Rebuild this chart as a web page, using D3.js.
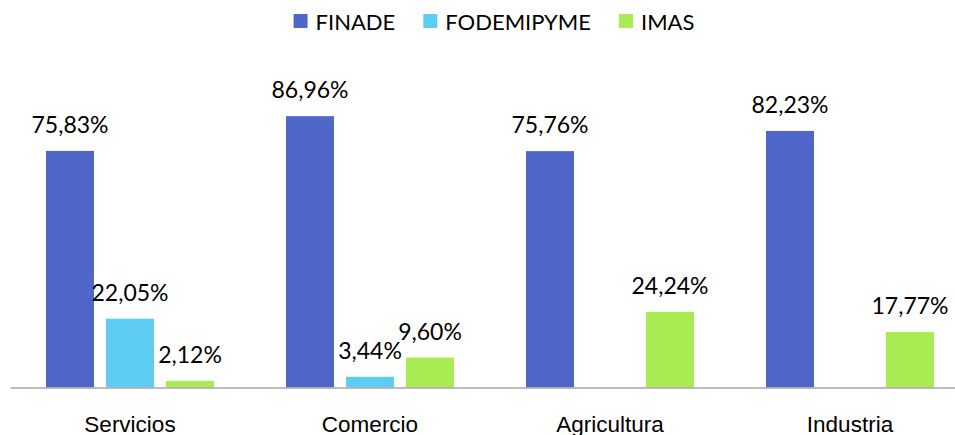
<!DOCTYPE html>
<html>
<head>
<meta charset="utf-8">
<script src="https://cdn.jsdelivr.net/npm/d3@7"></script>
<style>
  body { margin: 0; background: #fff; }
  svg { display: block; font-family: Lato, "Open Sans", sans-serif; }
  .label { font-size: 23px; fill: #000; }
  .cat { font-size: 22.5px; fill: #000; }
  .legend text { font-size: 22px; fill: #000; }
</style>
</head>
<body>
<svg width="955" height="435"></svg>
<script>
const w = 955, h = 435;

const categories = ["Servicios", "Comercio", "Agricultura", "Industria"];
const series = ["FINADE", "FODEMIPYME", "IMAS"];
const finade = [75.83, 86.96, 75.76, 82.23];
const fodemipyme = [22.05, 3.44, null, null];
const imas = [2.12, 9.60, 24.24, 17.77];
const colors = ["#4f67c8", "#5dcdf3", "#a9eb52"];

const values = [finade, fodemipyme, imas];
const baseY = 387.5;

const scaleX = d3.scaleBand().domain(categories).range([10, 970]);
const scaleS = d3.scaleBand().domain(series).range([36, 204]).paddingInner(0.2);
const scaleY = d3.scaleLinear().domain([0, 100]).range([baseY, baseY - 312]);
const color = d3.scaleOrdinal(series, colors);
const format = v => d3.format(".2f")(v).replace(".", ",") + "%";

const svg = d3.select("svg");

const rows = [];
categories.forEach((c, i) => {
    series.forEach((s, j) => {
        if (values[j][i] != null) rows.push({cat: c, series: s, value: values[j][i]});
    });
});

svg.selectAll("rect.bar")
    .data(rows)
    .join("rect").attr("class", "bar")
    .attr("x", d => scaleX(d.cat) + scaleS(d.series))
    .attr("width", scaleS.bandwidth())
    .attr("y", d => scaleY(d.value))
    .attr("height", d => scaleY(0) - scaleY(d.value))
    .style("fill", d => color(d.series));

svg.selectAll("text.label")
    .data(rows)
    .join("text").attr("class", "label")
    .attr("text-anchor", "middle")
    .attr("x", d => scaleX(d.cat) + scaleS(d.series) + scaleS.bandwidth() / 2)
    .attr("y", d => scaleY(d.value) - 18)
    .text(d => format(d.value));

// axis
const axisX = d3.axisBottom(scaleX).tickSize(0);
const xG = svg.append("g").attr("class", "x-axis")
    .attr("transform", `translate(${[0, baseY]})`)
    .call(axisX);
xG.select(".domain").attr("stroke", "#a6a6a6").attr("stroke-width", 1.5);
xG.selectAll("text").attr("class", "cat").attr("font-family", null).attr("font-size", null)
    .attr("fill", "#000").attr("dy", null).attr("y", 44);

// legend
const legend = svg.append("g").attr("class", "legend");
let lx = 0;
series.forEach(s => {
    const item = legend.append("g").attr("transform", `translate(${[lx, 0]})`);
    item.append("rect").attr("width", 14).attr("height", 14).attr("y", 14)
        .style("fill", color(s));
    const t = item.append("text").attr("x", 22).attr("y", 29.5).text(s);
    lx += 22 + t.node().getComputedTextLength() + 28;
});
const legendW = lx - 28;
legend.attr("transform", `translate(${[494 - legendW / 2, 0]})`);
</script>
</body>
</html>
